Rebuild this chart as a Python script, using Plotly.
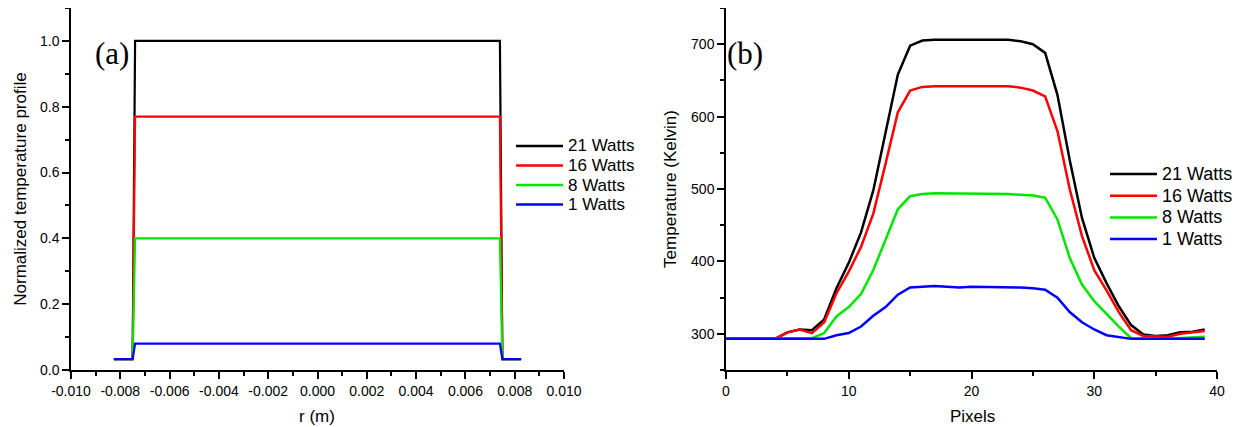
import plotly.graph_objects as go

# ---------------- data: panel (a) ----------------
r_m = [-0.00826, -0.0075, -0.0074, 0.0074, 0.0075, 0.00826]
profile_21 = [0.033, 0.033, 1.00, 1.00, 0.033, 0.033]
profile_16 = [0.033, 0.033, 0.77, 0.77, 0.033, 0.033]
profile_8 = [0.033, 0.033, 0.40, 0.40, 0.033, 0.033]
profile_1 = [0.033, 0.033, 0.08, 0.08, 0.033, 0.033]
r_tickvals = [-0.010, -0.008, -0.006, -0.004, -0.002, 0.000, 0.002, 0.004, 0.006, 0.008, 0.010]
r_ticktext = ["-0.010", "-0.008", "-0.006", "-0.004", "-0.002", "0.000",
              "0.002", "0.004", "0.006", "0.008", "0.010"]
prof_tickvals = [0.0, 0.2, 0.4, 0.6, 0.8, 1.0]
prof_ticktext = ["0.0", "0.2", "0.4", "0.6", "0.8", "1.0"]

# ---------------- data: panel (b) ----------------
pixels = list(range(40))
temp_21 = [293, 293, 293, 293, 293, 302, 306, 305, 320, 363,
           398, 440, 498, 578, 658, 698, 705, 706, 706, 707,
           707, 707, 706, 706, 704, 700, 688, 630, 540, 460,
           405, 370, 338, 312, 299, 297, 298, 302, 303, 306]
temp_16 = [293, 293, 293, 293, 293, 302, 306, 301, 316, 356,
           386, 420, 466, 535, 606, 636, 641, 642, 642, 643,
           643, 642, 643, 642, 640, 636, 628, 580, 500, 435,
           388, 360, 330, 305, 297, 296, 296, 300, 302, 304]
temp_8 = [293, 293, 293, 293, 293, 293, 293, 294, 301, 324,
          337, 355, 388, 430, 472, 490, 493, 494, 494, 494,
          494, 494, 493, 493, 492, 491, 488, 458, 405, 368,
          345, 327, 310, 294, 293, 293, 293, 294, 295, 296]
temp_1 = [293, 293, 293, 293, 293, 293, 293, 293, 293, 298,
          301, 310, 325, 337, 354, 364, 365, 366, 365, 364,
          365, 365, 364, 364, 364, 363, 361, 350, 330, 316,
          306, 298, 295, 293, 293, 293, 293, 293, 293, 293]

names = ["21 Watts", "16 Watts", "8 Watts", "1 Watts"]
colors = ["#000000", "#ff0000", "#00e600", "#0000ff"]

fig = go.Figure()
for name, col, ys in zip(names, colors, [profile_21, profile_16, profile_8, profile_1]):
    fig.add_trace(go.Scatter(x=r_m, y=ys, mode="lines", name=name,
                             line=dict(color=col, width=2.2),
                             xaxis="x", yaxis="y", showlegend=False))
for name, col, ys in zip(names, colors, [temp_21, temp_16, temp_8, temp_1]):
    fig.add_trace(go.Scatter(x=pixels, y=ys, mode="lines", name=name,
                             line=dict(color=col, width=2.5),
                             xaxis="x2", yaxis="y2", showlegend=False))

# page has an 8px body margin, so the figure starts 8px in from the window corner
OFF = 8
W, H = 1241 - OFF, 427 - OFF
def px(x):
    return (x - OFF) / W
def py(y):
    return 1 - (y - OFF) / H

title_font = dict(family="Liberation Sans", size=17, color="black")
axis_common = dict(showline=True, linecolor="black", linewidth=1.5,
                   ticks="outside", ticklen=7, tickwidth=1.5, tickcolor="black",
                   showgrid=False, zeroline=False, automargin=False,
                   tickfont=dict(family="Liberation Sans", size=14, color="black"),
                   title_font=title_font)
minor_common = dict(ticks="outside", ticklen=4, tickwidth=1.5, tickcolor="black", showgrid=False)

# legend keys (drawn as a key box beside each panel)
shapes = []
annotations = []
legend_specs = [  # (line x0, line x1, first row y, row step, font size)
    (516, 563, 146, 19.5, 17),
    (1110, 1157, 174, 21.7, 18),
]
for (lx0, lx1, ly0, step, fs) in legend_specs:
    for k, (name, col) in enumerate(zip(names, colors)):
        yy = ly0 + k * step
        shapes.append(dict(type="line", xref="paper", yref="paper",
                           x0=px(lx0), x1=px(lx1), y0=py(yy), y1=py(yy),
                           line=dict(color=col, width=2.5)))
        annotations.append(dict(text=name, x=px(lx1 + 3), y=py(yy), xref="paper", yref="paper",
                                xanchor="left", yanchor="middle", showarrow=False,
                                font=dict(family="Liberation Sans", size=fs, color="black")))

annotations += [
    dict(text="(a)", x=px(93), y=py(34), xref="paper", yref="paper",
         showarrow=False, font=dict(family="Liberation Serif", size=31, color="black")),
    dict(text="(b)", x=px(745), y=py(34), xref="paper", yref="paper",
         showarrow=False, font=dict(family="Liberation Serif", size=31, color="black")),
    # x-axis titles
    dict(text="r (m)", x=px(317), y=py(416), xref="paper", yref="paper",
         xanchor="center", yanchor="middle", showarrow=False, font=title_font),
    dict(text="Pixels", x=px(972), y=py(416), xref="paper", yref="paper",
         xanchor="center", yanchor="middle", showarrow=False, font=title_font),
]

fig.update_layout(
    width=W, height=H,
    paper_bgcolor="white", plot_bgcolor="white",
    margin=dict(l=0, r=0, t=0, b=0),
    font=dict(family="Liberation Sans", color="black"),
    showlegend=False,
    xaxis=dict(domain=[px(71), px(564)], range=[-0.010, 0.010], anchor="y",
               tickvals=r_tickvals, ticktext=r_ticktext,
               minor=dict(dtick=0.001, **minor_common), **axis_common),
    yaxis=dict(domain=[py(370), py(8)], range=[0, 1.1], anchor="x",
               tickvals=prof_tickvals, ticktext=prof_ticktext,
               minor=dict(dtick=0.1, **minor_common),
               title=dict(text="Normalized temperature profile", standoff=9), **axis_common),
    xaxis2=dict(domain=[px(726), px(1217)], range=[0, 40], anchor="y2",
                dtick=10, minor=dict(dtick=5, **minor_common), **axis_common),
    yaxis2=dict(domain=[py(370), py(8)], range=[250, 750], anchor="x2",
                dtick=100, minor=dict(dtick=50, **minor_common),
                title=dict(text="Temperature (Kelvin)", standoff=10), **axis_common),
    shapes=shapes,
    annotations=annotations,
)

fig.write_html("out.html")
